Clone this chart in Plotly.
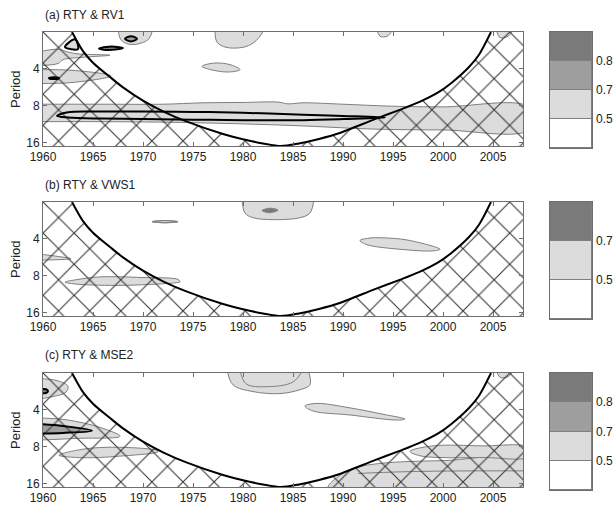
import math
import plotly.graph_objects as go

# ---------------- data ----------------
YEAR_RANGE = [1960, 2008]
PERIOD_RANGE = [2.03, 17.0]          # top, bottom of the period axis
X_TICKS = [1960, 1965, 1970, 1975, 1980, 1985, 1990, 1995, 2000, 2005]
Y_TICKS = [4, 8, 16]
PANEL_TITLES = ["(a) RTY & RV1", "(b) RTY & VWS1", "(c) RTY & MSE2"]
CBAR_LEVELS = [["0.5", "0.7", "0.8"], ["0.5", "0.7"], ["0.5", "0.7", "0.8"]]

# cone of influence (year, period)
COI_YEAR = [1962.9, 1964.0, 1965.0, 1966.7, 1968.0, 1970.0, 1972.0, 1974.4, 1978.0, 1980.0,
            1982.0, 1983.8, 1985.6, 1987.6, 1989.6, 1993.2, 1995.6, 1997.6, 1999.6, 2000.9,
            2002.6, 2003.6, 2004.8]
COI_PERIOD = [2.03, 2.9, 3.6, 4.7, 5.7, 7.3, 8.9, 10.8, 13.6, 15.0,
              16.2, 17.0, 16.2, 14.9, 13.4, 10.3, 8.7, 7.5, 6.2, 5.2,
              3.9, 3.1, 2.03]

# ---- panel (a) coherence regions ----
A_BAND_YEAR = [1959.5, 1966, 1972, 1976, 1980, 1983.5, 1984.5, 1986, 1990, 1995, 2000, 2008.5,
               2008.5, 2000, 1993, 1985, 1975, 1966, 1959.5]
A_BAND_PERIOD = [7.8, 7.8, 7.8, 7.6, 7.55, 7.5, 7.75, 7.6, 7.8, 8.1, 8.2, 8.2,
                 12.6, 12.6, 12.4, 11.6, 11.0, 10.8, 10.8]
A_SIG_YEAR = [1961.4, 1962.5, 1966, 1970, 1975, 1980, 1986, 1990, 1994.2,
              1990, 1986, 1980, 1975, 1970, 1966, 1962.5, 1961.4]
A_SIG_PERIOD = [9.7, 9.05, 8.95, 8.95, 9.0, 9.15, 9.5, 9.7, 10.0,
                10.3, 10.5, 10.5, 10.4, 10.3, 10.2, 10.0, 9.7]
A_TRI_YEAR = [1962.2, 1963.2, 1963.5, 1962.2]
A_TRI_PERIOD = [2.69, 2.33, 2.79, 2.69]
A_DARK_YEAR = [1965.6, 1966.3, 1967.2, 1968.0, 1967.2, 1966.3, 1965.6]
A_DARK_PERIOD = [2.76, 2.68, 2.67, 2.74, 2.82, 2.84, 2.76]
A_TOP1_YEAR = [1967.5, 1967.8, 1968.6, 1969.8, 1970.6, 1971.0]
A_TOP1_PERIOD = [1.9, 2.35, 2.55, 2.5, 2.3, 1.9]
A_LOOP_YEAR = [1968.2, 1968.8, 1969.4, 1968.8, 1968.2]
A_LOOP_PERIOD = [2.3, 2.2, 2.3, 2.42, 2.3]
A_TOP2_YEAR = [1977.2, 1977.4, 1978.3, 1980.0, 1981.0, 1981.6, 1982.2]
A_TOP2_PERIOD = [1.9, 2.45, 2.7, 2.7, 2.5, 2.25, 1.9]
A_ELL_YEAR = [1975.9, 1977.2, 1978.8, 1979.7, 1978.5, 1976.8, 1975.9]
A_ELL_PERIOD = [3.85, 3.62, 3.75, 4.1, 4.28, 4.1, 3.85]
A_WEDGE_YEAR = [1959.5, 1963, 1966.8, 1963, 1959.5]
A_WEDGE_PERIOD = [4.1, 4.15, 4.6, 5.2, 5.3]
A_DASH_YEAR = [1960.6, 1961.1, 1961.6, 1961.1, 1960.6]
A_DASH_PERIOD = [4.8, 4.72, 4.8, 4.88, 4.8]
A_ARC_YEAR = [1959.5, 1961.5, 1962.5, 1963.5, 1966.7, 1964, 1962, 1961.5, 1959.5]
A_ARC_PERIOD = [2.95, 2.8, 2.95, 3.05, 3.13, 3.25, 3.4, 3.65, 3.8]
A_TINY1_YEAR = [1993.4, 1993.7, 1994.5, 1995.0]
A_TINY1_PERIOD = [1.9, 2.2, 2.18, 1.9]
A_TINY2_YEAR = [2005.3, 2005.7, 2006.5, 2007.1]
A_TINY2_PERIOD = [1.9, 2.25, 2.2, 1.9]

# ---- panel (b) ----
B_TOP_YEAR = [1979.9, 1980.2, 1981.0, 1983.0, 1985.7, 1986.7, 1987.1]
B_TOP_PERIOD = [1.9, 2.49, 2.72, 2.82, 2.72, 2.49, 1.9]
B_DARK_YEAR = [1981.9, 1982.7, 1983.5, 1982.7, 1981.9]
B_DARK_PERIOD = [2.38, 2.28, 2.36, 2.48, 2.38]
B_THIN_YEAR = [1970.9, 1972.2, 1973.5, 1972.2, 1970.9]
B_THIN_PERIOD = [2.93, 2.87, 2.93, 2.99, 2.93]
B_WEDGE_YEAR = [1959.5, 1961.5, 1962.8, 1961.5, 1959.5]
B_WEDGE_PERIOD = [5.35, 5.6, 5.85, 5.95, 6.0]
B_ELL_YEAR = [1962.2, 1963.5, 1965.7, 1970, 1973.5, 1973.7, 1973.5, 1968, 1963.5, 1962.2]
B_ELL_PERIOD = [9.05, 8.6, 8.2, 8.3, 8.6, 9.0, 9.1, 9.6, 9.4, 9.05]
B_BLOB_YEAR = [1991.7, 1992.6, 1994.0, 1996.4, 1999.7, 1999.0, 1995.7, 1992.4, 1991.7]
B_BLOB_PERIOD = [4.17, 3.98, 3.96, 4.12, 4.9, 5.05, 4.9, 4.5, 4.17]

# ---- panel (c) ----
C_SPOT_YEAR = [1959.8, 1960.3, 1960.5, 1960.3, 1959.8]
C_SPOT_PERIOD = [2.75, 2.75, 2.85, 2.95, 2.95]
C_LEFT_YEAR = [1959.5, 1961.5, 1962.5, 1962.3, 1961, 1959.5]
C_LEFT_PERIOD = [2.25, 2.35, 2.6, 2.9, 3.15, 3.3]
C_AROUND_YEAR = [1959.5, 1962.3, 1965.7, 1967.7, 1963.3, 1959.5]
C_AROUND_PERIOD = [4.7, 4.85, 5.6, 6.6, 6.87, 7.1]
C_SIG_YEAR = [1959.5, 1962, 1964.9, 1962, 1959.5]
C_SIG_PERIOD = [5.25, 5.45, 5.95, 6.2, 6.27]
C_ELL_YEAR = [1961.6, 1964, 1967.4, 1971.4, 1971.5, 1967.4, 1964, 1961.6]
C_ELL_PERIOD = [9.4, 8.4, 8.1, 8.6, 8.8, 9.6, 9.85, 9.4]
C_TOP_YEAR = [1978.4, 1979.0, 1981.0, 1983.7, 1985.7, 1986.7, 1986.5]
C_TOP_PERIOD = [1.9, 2.53, 2.87, 2.98, 2.77, 2.53, 1.9]
C_INNER_YEAR = [1979.7, 1980.3, 1982.4, 1985.0, 1986.0]
C_INNER_PERIOD = [1.9, 2.48, 2.62, 2.40, 1.9]
C_BLOB_YEAR = [1986.2, 1987.4, 1990.7, 1994.0, 1996.2, 1995.4, 1990.7, 1987.0, 1986.2]
C_BLOB_PERIOD = [3.76, 3.58, 3.89, 4.38, 4.79, 4.88, 4.44, 4.12, 3.76]
C_TINY_YEAR = [2005.3, 2005.7, 2006.5, 2007.1]
C_TINY_PERIOD = [1.9, 2.2, 2.18, 1.9]
C_RELL_YEAR = [1996.7, 1999, 2004, 2008.5, 2008.5, 2004, 2000.7, 1997.7, 1996.7]
C_RELL_PERIOD = [8.75, 7.9, 7.9, 8.1, 9.7, 9.8, 9.85, 9.5, 8.75]
C_RLOW_YEAR = [1988.5, 1989.5, 1991, 1994, 2000, 2008.5, 2008.5, 1988.5]
C_RLOW_PERIOD = [17.5, 14, 12, 10.9, 10.4, 10.3, 17.5, 17.5]
C_RLINE_YEAR = [1991.5, 1996, 2002, 2008.5]
C_RLINE_PERIOD = [13.2, 12.8, 12.6, 12.6]

# ---------------- styling ----------------
WHITE, LIGHT, MEDIUM, DARK = "#ffffff", "#dcdcdc", "#9e9e9e", "#7a7a7a"
OUTLINE = "#7f7f7f"
CBAR_COLORS = [[WHITE, LIGHT, MEDIUM, DARK], [WHITE, LIGHT, DARK], [WHITE, LIGHT, MEDIUM, DARK]]
FONT = "Liberation Sans, Arial, Helvetica, sans-serif"
FIG_W, FIG_H = 613, 508
PLOT_X = (43, 523)
CBAR_X = (550, 592)
CBAR_LABEL_X = 594
PANEL_Y = [(32, 146), (202, 316), (373, 487)]
CBAR_Y = [(32, 148), (202, 319), (373, 490)]
TITLE_Y = [15, 185, 355]

PANELS = [
    dict(fills=[
        (A_BAND_YEAR, A_BAND_PERIOD, LIGHT),
        (A_ARC_YEAR, A_ARC_PERIOD, LIGHT),
        (A_WEDGE_YEAR, A_WEDGE_PERIOD, LIGHT),
        (A_TOP1_YEAR, A_TOP1_PERIOD, LIGHT),
        (A_TOP2_YEAR, A_TOP2_PERIOD, LIGHT),
        (A_ELL_YEAR, A_ELL_PERIOD, LIGHT),
        (A_TINY1_YEAR, A_TINY1_PERIOD, LIGHT),
        (A_TINY2_YEAR, A_TINY2_PERIOD, LIGHT),
        (A_TRI_YEAR, A_TRI_PERIOD, LIGHT),
        (A_LOOP_YEAR, A_LOOP_PERIOD, MEDIUM),
        (A_DARK_YEAR, A_DARK_PERIOD, DARK),
        (A_DASH_YEAR, A_DASH_PERIOD, DARK),
    ], sig=[
        (A_SIG_YEAR, A_SIG_PERIOD), (A_TRI_YEAR, A_TRI_PERIOD), (A_LOOP_YEAR, A_LOOP_PERIOD),
        (A_DARK_YEAR, A_DARK_PERIOD), (A_DASH_YEAR, A_DASH_PERIOD),
    ], lines=[]),
    dict(fills=[
        (B_TOP_YEAR, B_TOP_PERIOD, LIGHT),
        (B_THIN_YEAR, B_THIN_PERIOD, LIGHT),
        (B_WEDGE_YEAR, B_WEDGE_PERIOD, LIGHT),
        (B_ELL_YEAR, B_ELL_PERIOD, LIGHT),
        (B_BLOB_YEAR, B_BLOB_PERIOD, LIGHT),
        (B_DARK_YEAR, B_DARK_PERIOD, DARK),
    ], sig=[], lines=[(B_THIN_YEAR, B_THIN_PERIOD)]),
    dict(fills=[
        (C_LEFT_YEAR, C_LEFT_PERIOD, LIGHT),
        (C_AROUND_YEAR, C_AROUND_PERIOD, LIGHT),
        (C_ELL_YEAR, C_ELL_PERIOD, LIGHT),
        (C_TOP_YEAR, C_TOP_PERIOD, LIGHT),
        (C_BLOB_YEAR, C_BLOB_PERIOD, LIGHT),
        (C_TINY_YEAR, C_TINY_PERIOD, LIGHT),
        (C_RLOW_YEAR, C_RLOW_PERIOD, LIGHT),
        (C_RELL_YEAR, C_RELL_PERIOD, LIGHT),
        (C_SIG_YEAR, C_SIG_PERIOD, MEDIUM),
        (C_SPOT_YEAR, C_SPOT_PERIOD, DARK),
    ], sig=[(C_SIG_YEAR, C_SIG_PERIOD), (C_SPOT_YEAR, C_SPOT_PERIOD)],
        lines=[(C_INNER_YEAR, C_INNER_PERIOD), (C_RLINE_YEAR, C_RLINE_PERIOD)]),
]


def px_x(p):
    return p / FIG_W


def px_y(p):
    return 1 - p / FIG_H


fig = go.Figure()

for i, panel in enumerate(PANELS):
    n = i + 1
    xa, ya = ("x", "y") if n == 1 else (f"x{n}", f"y{n}")
    common = dict(xaxis=xa, yaxis=ya, hoverinfo="skip", showlegend=False)

    for yrs, pers, col in panel["fills"]:
        fig.add_trace(go.Scatter(x=yrs, y=pers, mode="lines", fill="toself", fillcolor=col,
                                 line=dict(color=OUTLINE, width=1, shape="spline", smoothing=1.0),
                                 **common))
    for yrs, pers in panel["lines"]:
        fig.add_trace(go.Scatter(x=yrs, y=pers, mode="lines",
                                 line=dict(color=OUTLINE, width=1, shape="spline", smoothing=1.0),
                                 **common))

    # hatched area outside the cone of influence
    hx = [YEAR_RANGE[0] - 1, COI_YEAR[0] - 0.3] + COI_YEAR + [COI_YEAR[-1] + 0.3, YEAR_RANGE[1] + 1,
                                                              YEAR_RANGE[1] + 1, YEAR_RANGE[0] - 1]
    hy = [1.5, 1.5] + COI_PERIOD + [1.5, 1.5, 30, 30]
    fig.add_trace(go.Scatter(x=hx, y=hy, mode="lines", fill="toself",
                             fillcolor="rgba(0,0,0,0)", line=dict(width=0, color="rgba(0,0,0,0)"),
                             fillpattern=dict(shape="x", size=22, solidity=0.1,
                                              fgcolor="#3a3a3a", fillmode="replace"),
                             **common))

    for yrs, pers in panel["sig"]:
        fig.add_trace(go.Scatter(x=yrs, y=pers, mode="lines",
                                 line=dict(color="#000000", width=2, shape="spline", smoothing=1.0),
                                 **common))

    fig.add_trace(go.Scatter(x=COI_YEAR, y=COI_PERIOD, mode="lines",
                             line=dict(color="#000000", width=2, shape="spline", smoothing=0.8),
                             **common))

    # colour bar as stacked boxes
    cx, cy = f"x{n + 3}", f"y{n + 3}"
    for col in CBAR_COLORS[i]:
        fig.add_trace(go.Bar(x=[0], y=[1], width=1,
                             marker=dict(color=col, line=dict(color=OUTLINE, width=1)),
                             xaxis=cx, yaxis=cy, hoverinfo="skip", showlegend=False))
    for k, lab in enumerate(CBAR_LEVELS[i]):
        fig.add_annotation(text=lab, xref="paper", yref=cy, x=px_x(CBAR_LABEL_X), y=k + 1,
                           xanchor="left", yanchor="middle", showarrow=False,
                           font=dict(family=FONT, size=12, color="#222222"))

    axis_style = dict(showline=True, linecolor="#6e6e6e", linewidth=1, mirror="ticks",
                      ticks="inside", ticklen=4, tickcolor="#6e6e6e", showgrid=False,
                      zeroline=False, automargin=False,
                      tickfont=dict(family=FONT, size=12, color="#222222"))
    y0, y1 = PANEL_Y[i]
    fig.layout[f"xaxis{n}" if n > 1 else "xaxis"] = dict(
        domain=[px_x(PLOT_X[0]), px_x(PLOT_X[1])], anchor=ya, range=YEAR_RANGE,
        tickvals=X_TICKS, **axis_style)
    fig.layout[f"yaxis{n}" if n > 1 else "yaxis"] = dict(
        domain=[px_y(y1), px_y(y0)], anchor=xa, type="log",
        range=[math.log10(PERIOD_RANGE[1]), math.log10(PERIOD_RANGE[0])],
        tickvals=Y_TICKS, ticktext=[str(t) for t in Y_TICKS], **axis_style)

    c0, c1 = CBAR_Y[i]
    nb = len(CBAR_COLORS[i])
    fig.layout[f"xaxis{n + 3}"] = dict(domain=[px_x(CBAR_X[0]), px_x(CBAR_X[1])], anchor=cy,
                                       range=[-0.5, 0.5], showticklabels=False, showgrid=False,
                                       zeroline=False, showline=True, mirror=True,
                                       linecolor="#6e6e6e", ticks="", automargin=False)
    fig.layout[f"yaxis{n + 3}"] = dict(domain=[px_y(c1), px_y(c0)], anchor=cx,
                                       range=[0, nb], showticklabels=False, showgrid=False,
                                       zeroline=False, showline=True, mirror=True,
                                       linecolor="#6e6e6e", ticks="", automargin=False)

    fig.add_annotation(text=PANEL_TITLES[i], xref="paper", yref="paper", x=px_x(PLOT_X[0]),
                       y=px_y(TITLE_Y[i]), xanchor="left", yanchor="middle", showarrow=False,
                       font=dict(family=FONT, size=12, color="#222222"))
    fig.add_annotation(text="Period", xref="paper", yref="paper", x=px_x(15),
                       y=px_y((y0 + y1) / 2), xanchor="center", yanchor="middle", textangle=-90,
                       showarrow=False, font=dict(family=FONT, size=13, color="#222222"))

fig.update_layout(width=FIG_W, height=FIG_H, margin=dict(l=0, r=0, t=0, b=0),
                  paper_bgcolor="white", plot_bgcolor="white", barmode="stack", bargap=0)

fig.write_html("out.html", config={"displayModeBar": False},
               post_script="document.body.style.margin='0px';document.body.style.overflow='hidden';")
